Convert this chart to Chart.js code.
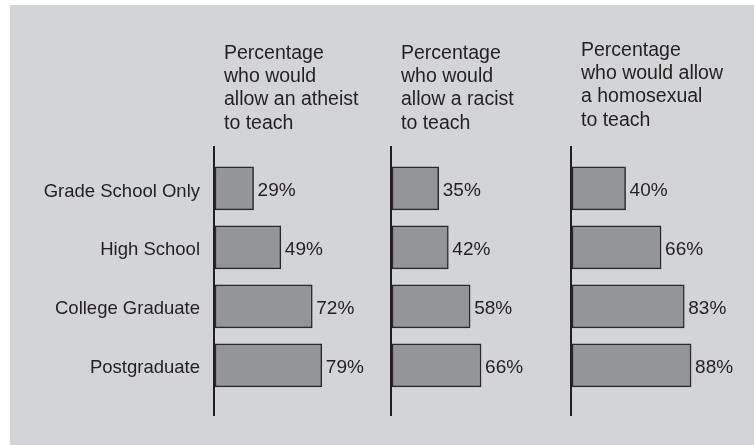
<!DOCTYPE html>
<html>
<head>
<meta charset="utf-8">
<script src="https://cdn.jsdelivr.net/npm/chart.js@4.4.1/dist/chart.umd.min.js"></script>
<style>
  html, body { margin: 0; padding: 0; background: #ffffff; }
  #wrap { position: relative; width: 754px; height: 445px; overflow: hidden; }
  #panel { position: absolute; left: 10px; top: 5px; right: 0; bottom: 0; background: #d3d4d6; }
  #chart { position: absolute; left: 0; top: 0; }
</style>
</head>
<body>
<div id="wrap">
  <div id="panel"></div>
  <canvas id="chart" width="754" height="445"></canvas>
</div>
<script>
const categories = ["Grade School Only", "High School", "College Graduate", "Postgraduate"];
const atheistValues = [29, 49, 72, 79];
const racistValues = [35, 42, 58, 66];
const homosexualValues = [40, 66, 83, 88];
const panelTitles = [
  ["Percentage", "who would", "allow an atheist", "to teach"],
  ["Percentage", "who would", "allow a racist", "to teach"],
  ["Percentage", "who would allow", "a homosexual", "to teach"],
];

const textColor = "#231f20";
const fontFamily = "'Liberation Sans', Arial, sans-serif";

function toPoints(values) {
  return values.map((v, i) => ({ x: v, y: i }));
}

function makeDataset(values, axisId) {
  return {
    data: toPoints(values),
    xAxisID: axisId,
    yAxisID: "y",
    backgroundColor: "#939598",
    borderColor: "#2b2829",
    borderWidth: 1.5,
    borderSkipped: false,
    barThickness: 43,
    grouped: false,
  };
}

function xAxis(max, weight) {
  return {
    type: "linear",
    position: "bottom",
    stack: "panels",
    stackWeight: weight,
    min: 0,
    max: max,
    border: { display: false },
    ticks: { display: false },
    grid: {
      drawTicks: false,
      lineWidth: 2,
      color: (c) => (c.tick && c.tick.value === 0 ? textColor : "rgba(0,0,0,0)"),
    },
    afterFit: (scale) => { scale.height = 0; },
  };
}

// value labels to the right of each bar
const valueLabels = {
  id: "valueLabels",
  afterDatasetsDraw(chart) {
    const ctx = chart.ctx;
    ctx.save();
    ctx.font = "19px " + fontFamily;
    ctx.fillStyle = textColor;
    ctx.textAlign = "left";
    ctx.textBaseline = "middle";
    chart.data.datasets.forEach((ds, i) => {
      chart.getDatasetMeta(i).data.forEach((bar, j) => {
        ctx.fillText(ds.data[j].x + "%", bar.x + 4, bar.y + 2);
      });
    });
    ctx.restore();
  },
};

// multi-line headings above each panel
const panelHeadings = {
  id: "panelHeadings",
  afterDraw(chart) {
    const ctx = chart.ctx;
    const shift = [0, 0, -3];
    ctx.save();
    ctx.font = "19.5px " + fontFamily;
    ctx.fillStyle = textColor;
    ctx.textAlign = "left";
    ctx.textBaseline = "alphabetic";
    ["x1", "x2", "x3"].forEach((id, i) => {
      const left = chart.scales[id].getPixelForValue(0) + 10;
      panelTitles[i].forEach((line, k) => {
        ctx.fillText(line, left, 58.5 + shift[i] + k * 23.4);
      });
    });
    ctx.restore();
  },
};

new Chart(document.getElementById("chart"), {
  type: "bar",
  data: {
    datasets: [
      makeDataset(atheistValues, "x1"),
      makeDataset(racistValues, "x2"),
      makeDataset(homosexualValues, "x3"),
    ],
  },
  options: {
    indexAxis: "y",
    responsive: false,
    animation: false,
    layout: { padding: { left: 0, right: 3, top: 146, bottom: 29 } },
    scales: {
      y: {
        type: "linear",
        reverse: true,
        offset: false,
        min: -0.72,
        max: 3.86,
        border: { display: false },
        grid: { display: false, drawTicks: false, offset: false },
        afterBuildTicks: (scale) => {
          scale.ticks = categories.map((c, i) => ({ value: i }));
        },
        afterFit: (scale) => { scale.width = 214; },
        ticks: {
          padding: 14,
          labelOffset: 3,
          color: textColor,
          font: { family: fontFamily, size: 18.5 },
          callback: (v) => categories[v],
        },
      },
      x1: xAxis(129.7, 177),
      x2: xAxis(131.9, 180),
      x3: xAxis(131.9, 180),
    },
    plugins: {
      legend: { display: false },
      tooltip: { enabled: false },
    },
  },
  plugins: [valueLabels, panelHeadings],
});
</script>
</body>
</html>
